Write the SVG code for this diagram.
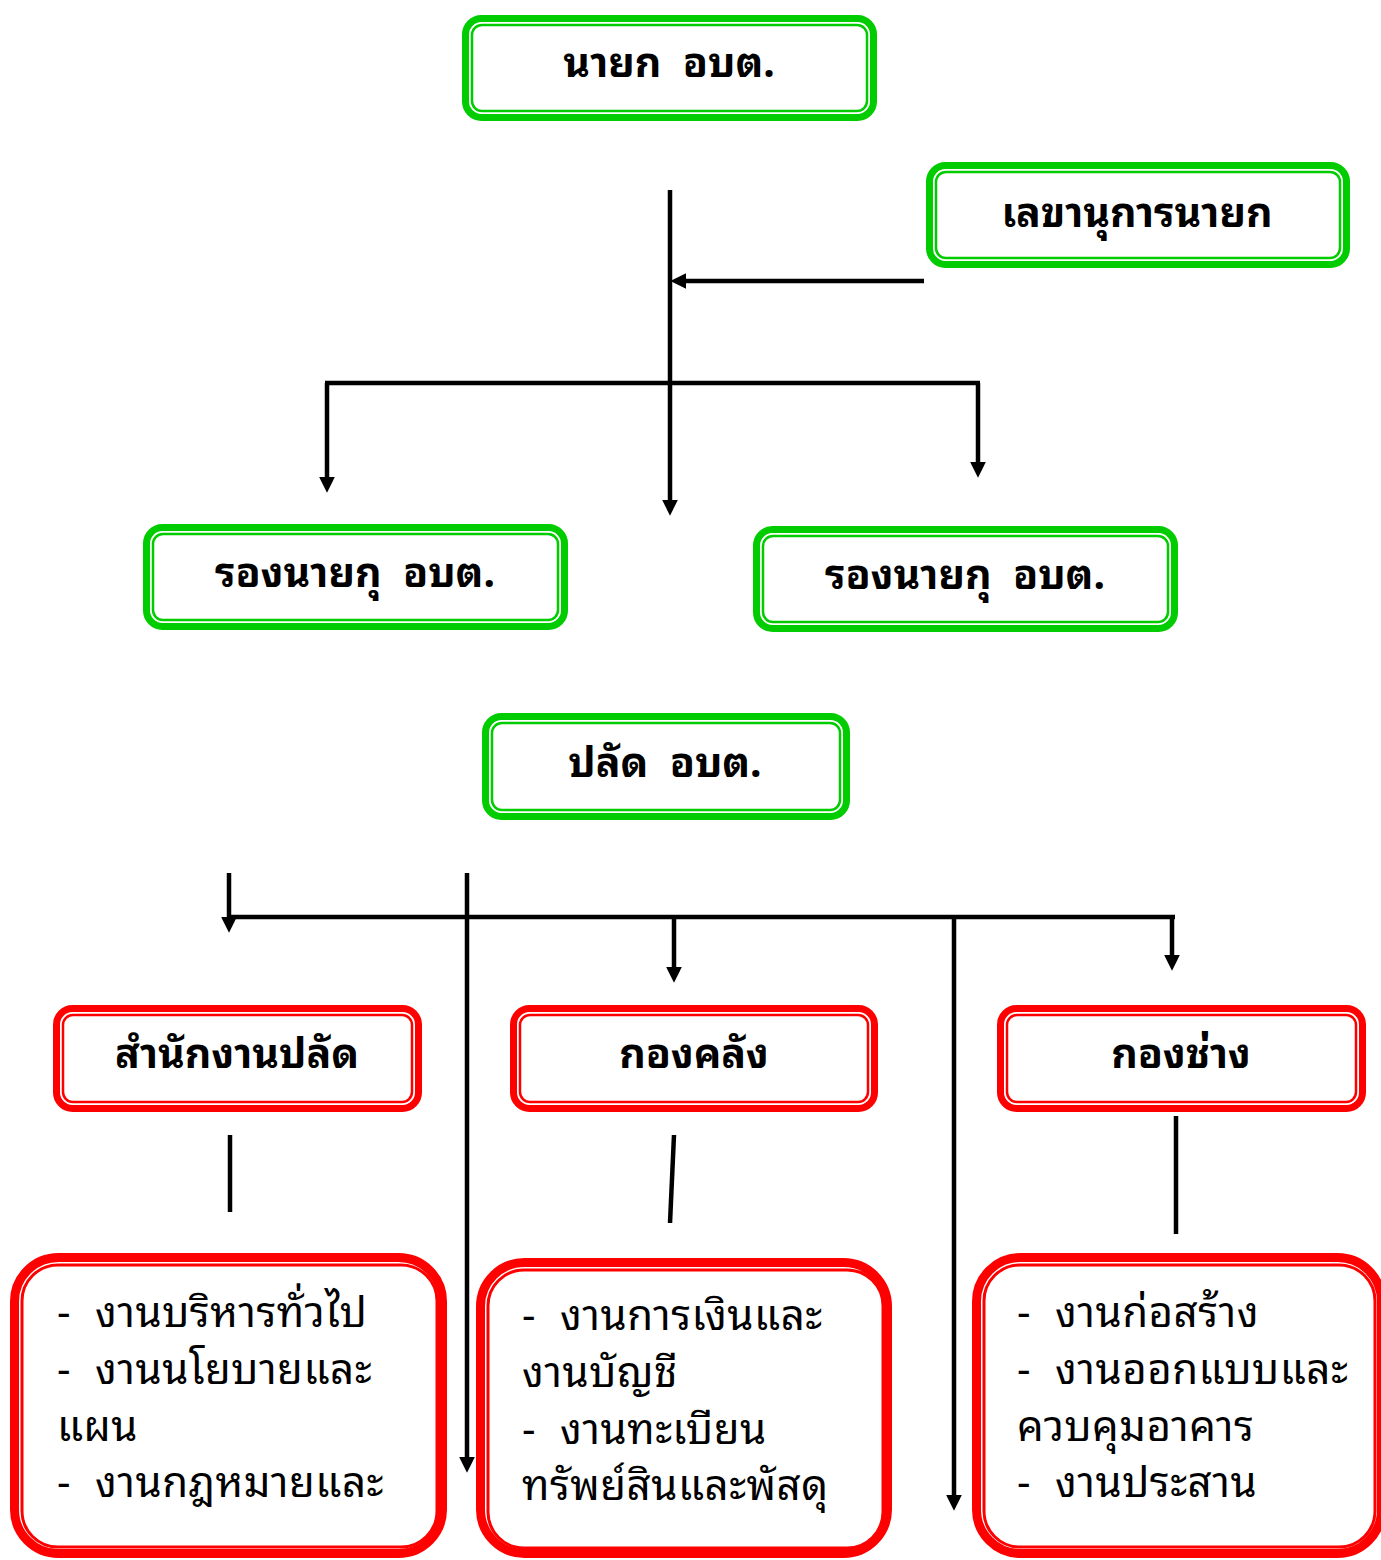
<svg xmlns="http://www.w3.org/2000/svg" width="1381" height="1560" viewBox="0 0 1381 1560">
<style>
  .go { fill: #fff; stroke: #00CC00; stroke-width: 7; }
  .gi { fill: none; stroke: #00CC00; stroke-width: 2.5; }
  .ro { fill: #fff; stroke: #FF0000; stroke-width: 7; }
  .ri { fill: none; stroke: #FF0000; stroke-width: 2.5; }
  .bo { fill: #fff; stroke: #FF0000; stroke-width: 9; }
  .bi { fill: none; stroke: #FF0000; stroke-width: 3; }
  .t { font-family: "Noto Sans Thai Looped", "Noto Sans Thai", "Noto Sans", "DejaVu Sans", sans-serif; font-size: 41px; font-weight: bold; fill: #000; text-anchor: middle; white-space: pre; }
  .b { font-family: "Noto Sans Thai Looped", "Noto Sans Thai", "Noto Sans", "DejaVu Sans", sans-serif; font-size: 42px; letter-spacing: 0.5px; fill: #000; }
  .c { stroke: #000; stroke-width: 4.5; fill: none; }
  .ca { stroke: #000; stroke-width: 4.5; fill: none; marker-end: url(#ah); }
</style>
<defs>
  <marker id="ah" viewBox="0 0 10 10" refX="3.33" refY="5" markerWidth="16" markerHeight="16" markerUnits="userSpaceOnUse" orient="auto">
    <path d="M0,0 L10,5 L0,10 z" fill="#000"/>
  </marker>
</defs>
<rect width="1381" height="1560" fill="#fff"/>

<g id="connectors">
  <line class="ca" x1="670" y1="190" x2="670" y2="505"/>
  <line class="ca" x1="924" y1="281" x2="681" y2="281"/>
  <line class="c" x1="325" y1="383" x2="980" y2="383"/>
  <line class="ca" x1="327" y1="383" x2="327" y2="482"/>
  <line class="ca" x1="978" y1="383" x2="978" y2="467"/>

  <line class="ca" x1="229" y1="873" x2="229" y2="922"/>
  <line class="c" x1="227" y1="917" x2="1175" y2="917"/>
  <line class="ca" x1="467" y1="873" x2="467" y2="1462"/>
  <line class="ca" x1="674" y1="917" x2="674" y2="972"/>
  <line class="ca" x1="954" y1="917" x2="954" y2="1500"/>
  <line class="ca" x1="1172" y1="917" x2="1172" y2="960"/>

  <line class="c" x1="230" y1="1135" x2="230" y2="1212"/>
  <line class="c" x1="674" y1="1135" x2="670" y2="1223"/>
  <line class="c" x1="1176" y1="1116" x2="1176" y2="1234"/>
</g>

<g id="n-nayok">
  <rect class="go" x="465.5" y="18.5" width="408" height="99" rx="16"/>
  <rect class="gi" x="472" y="25" width="395" height="86" rx="10"/>
  <text class="t" x="669" y="77">นายก  อบต.</text>
</g>
<g id="n-lekha">
  <rect class="go" x="929.5" y="165.5" width="417" height="99" rx="16"/>
  <rect class="gi" x="936" y="172" width="404" height="86" rx="10"/>
  <text class="t" x="1137" y="227">เลขานุการนายก</text>
</g>
<g id="n-rong1">
  <rect class="go" x="146.5" y="527.5" width="418" height="99" rx="16"/>
  <rect class="gi" x="153" y="534" width="405" height="86" rx="10"/>
  <text class="t" x="355" y="587">รองนายกุ  อบต.</text>
</g>
<g id="n-rong2">
  <rect class="go" x="756.5" y="529.5" width="418" height="99" rx="16"/>
  <rect class="gi" x="763" y="536" width="405" height="86" rx="10"/>
  <text class="t" x="965" y="589">รองนายกุ  อบต.</text>
</g>
<g id="n-palad">
  <rect class="go" x="485.5" y="716.5" width="361" height="100" rx="16"/>
  <rect class="gi" x="492" y="723" width="348" height="87" rx="10"/>
  <text class="t" x="665" y="777">ปลัด  อบต.</text>
</g>

<g id="n-office">
  <rect class="ro" x="56.5" y="1008.5" width="362" height="100" rx="16"/>
  <rect class="ri" x="63" y="1015" width="349" height="87" rx="10"/>
  <text class="t" x="237" y="1068">สำนักงานปลัด</text>
</g>
<g id="n-finance">
  <rect class="ro" x="513.5" y="1008.5" width="361" height="100" rx="16"/>
  <rect class="ri" x="520" y="1015" width="348" height="87" rx="10"/>
  <text class="t" x="694" y="1068">กองคลัง</text>
</g>
<g id="n-eng">
  <rect class="ro" x="1000.5" y="1008.5" width="362" height="100" rx="16"/>
  <rect class="ri" x="1007" y="1015" width="349" height="87" rx="10"/>
  <text class="t" x="1181" y="1068">กองช่าง</text>
</g>

<g id="n-office-tasks">
  <rect class="bo" x="14.5" y="1257.5" width="428" height="296" rx="44"/>
  <rect class="bi" x="22" y="1265" width="415" height="282" rx="36"/>
  <text class="b"><tspan x="57" y="1327">-</tspan><tspan x="95" y="1327">งานบริหารทั่วไป</tspan></text>
  <text class="b"><tspan x="57" y="1384">-</tspan><tspan x="95" y="1384">งานนโยบายและ</tspan></text>
  <text class="b" x="57" y="1441">แผน</text>
  <text class="b"><tspan x="57" y="1497">-</tspan><tspan x="95" y="1497">งานกฎหมายและ</tspan></text>
</g>
<g id="n-finance-tasks">
  <rect class="bo" x="480.5" y="1262.5" width="407" height="291" rx="44"/>
  <rect class="bi" x="488" y="1270" width="395" height="278" rx="36"/>
  <text class="b"><tspan x="522" y="1330">-</tspan><tspan x="560" y="1330">งานการเงินและ</tspan></text>
  <text class="b" x="522" y="1387">งานบัญชี</text>
  <text class="b"><tspan x="522" y="1444">-</tspan><tspan x="560" y="1444">งานทะเบียน</tspan></text>
  <text class="b" x="522" y="1500">ทรัพย์สินและพัสดุ</text>
</g>
<g id="n-eng-tasks">
  <rect class="bo" x="976.5" y="1257.5" width="405" height="296" rx="44"/>
  <rect class="bi" x="984" y="1265" width="391" height="282" rx="36"/>
  <text class="b"><tspan x="1017" y="1327">-</tspan><tspan x="1055" y="1327">งานก่อสร้าง</tspan></text>
  <text class="b"><tspan x="1017" y="1384">-</tspan><tspan x="1055" y="1384">งานออกแบบและ</tspan></text>
  <text class="b" x="1017" y="1441">ควบคุมอาคาร</text>
  <text class="b"><tspan x="1017" y="1497">-</tspan><tspan x="1055" y="1497">งานประสาน</tspan></text>
</g>
</svg>
